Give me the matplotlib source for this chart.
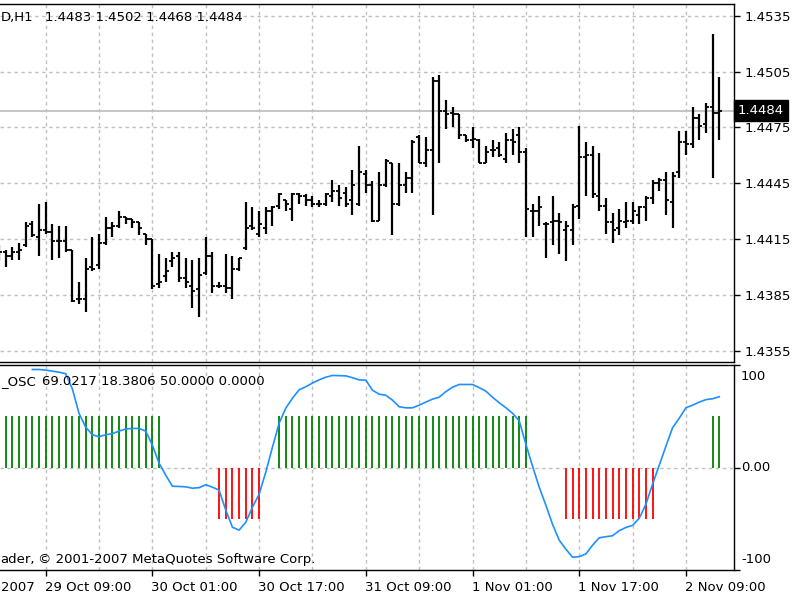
import numpy as np
import pandas as pd
import matplotlib
matplotlib.use('Agg')
import matplotlib.pyplot as plt

plt.rcParams['font.family'] = ['DejaVu Sans']
plt.rcParams['font.size'] = 9.5

# EURUSD H1, bars from 29 Oct 2007 02:00 to 2 Nov 2007 14:00
times = pd.date_range('2007-10-29 02:00', periods=109, freq='h')

opens = [1.4409, 1.4408, 1.4406, 1.4408, 1.4412, 1.4423, 1.4416, 1.4420, 1.4419, 1.4414,
         1.4414, 1.4409, 1.4383, 1.4383, 1.4400, 1.4401, 1.4413, 1.4421, 1.4422, 1.4427,
         1.4426, 1.4424, 1.4418, 1.4415, 1.4391, 1.4395, 1.4403, 1.4406, 1.4394, 1.4390,
         1.4388, 1.4397, 1.4406, 1.4390, 1.4390, 1.4389, 1.4399, 1.4410, 1.4422, 1.4418,
         1.4421, 1.4430, 1.4433, 1.4436, 1.4431, 1.4439, 1.4438, 1.4436, 1.4434, 1.4434,
         1.4438, 1.4441, 1.4440, 1.4436, 1.4434, 1.4450, 1.4444, 1.4425, 1.4444, 1.4456,
         1.4434, 1.4444, 1.4448, 1.4470, 1.4456, 1.4463, 1.4500, 1.4484, 1.4483, 1.4482,
         1.4471, 1.4468, 1.4468, 1.4456, 1.4463, 1.4464, 1.4458, 1.4468, 1.4471, 1.4462,
         1.4430, 1.4430, 1.4423, 1.4424, 1.4425, 1.4420, 1.4420, 1.4433, 1.4459, 1.4460,
         1.4438, 1.4433, 1.4424, 1.4421, 1.4424, 1.4425, 1.4428, 1.4432, 1.4437, 1.4445,
         1.4447, 1.4435, 1.4451, 1.4467, 1.4466, 1.4480, 1.4477, 1.4486, 1.4483]
highs = [1.4412, 1.4409, 1.4411, 1.4413, 1.4424, 1.4425, 1.4434, 1.4435, 1.4423, 1.4422,
         1.4422, 1.4409, 1.4392, 1.4405, 1.4416, 1.4418, 1.4427, 1.4424, 1.4430, 1.4427,
         1.4426, 1.4424, 1.4418, 1.4415, 1.4407, 1.4405, 1.4408, 1.4408, 1.4405, 1.4404,
         1.4405, 1.4416, 1.4408, 1.4392, 1.4407, 1.4406, 1.4405, 1.4435, 1.4432, 1.4430,
         1.4432, 1.4433, 1.4440, 1.4436, 1.4440, 1.4440, 1.4439, 1.4438, 1.4436, 1.4440,
         1.4447, 1.4444, 1.4443, 1.4452, 1.4465, 1.4452, 1.4446, 1.4451, 1.4458, 1.4456,
         1.4456, 1.4451, 1.4468, 1.4471, 1.4470, 1.4502, 1.4503, 1.4490, 1.4486, 1.4482,
         1.4471, 1.4475, 1.4469, 1.4465, 1.4468, 1.4467, 1.4472, 1.4474, 1.4475, 1.4464,
         1.4434, 1.4438, 1.4424, 1.4438, 1.4429, 1.4425, 1.4434, 1.4476, 1.4467, 1.4465,
         1.4461, 1.4437, 1.4429, 1.4431, 1.4435, 1.4435, 1.4433, 1.4438, 1.4447, 1.4448,
         1.4451, 1.4451, 1.4473, 1.4473, 1.4486, 1.4482, 1.4488, 1.4525, 1.4502]
lows = [1.4403, 1.4400, 1.4404, 1.4404, 1.4411, 1.4416, 1.4406, 1.4418, 1.4404, 1.4405,
        1.4408, 1.4381, 1.4380, 1.4376, 1.4398, 1.4399, 1.4412, 1.4416, 1.4421, 1.4423,
        1.4421, 1.4417, 1.4412, 1.4388, 1.4389, 1.4392, 1.4400, 1.4392, 1.4389, 1.4378,
        1.4373, 1.4396, 1.4386, 1.4389, 1.4386, 1.4383, 1.4398, 1.4409, 1.4420, 1.4416,
        1.4418, 1.4422, 1.4431, 1.4430, 1.4425, 1.4434, 1.4433, 1.4432, 1.4432, 1.4433,
        1.4435, 1.4433, 1.4432, 1.4428, 1.4433, 1.4440, 1.4424, 1.4425, 1.4443, 1.4417,
        1.4433, 1.4440, 1.4440, 1.4456, 1.4454, 1.4428, 1.4456, 1.4474, 1.4475, 1.4469,
        1.4467, 1.4464, 1.4456, 1.4456, 1.4459, 1.4459, 1.4456, 1.4460, 1.4456, 1.4416,
        1.4416, 1.4422, 1.4405, 1.4412, 1.4407, 1.4403, 1.4412, 1.4426, 1.4438, 1.4437,
        1.4430, 1.4418, 1.4413, 1.4417, 1.4421, 1.4423, 1.4423, 1.4425, 1.4434, 1.4441,
        1.4428, 1.4421, 1.4448, 1.4460, 1.4464, 1.4468, 1.4472, 1.4448, 1.4468]
closes = [1.4408, 1.4406, 1.4408, 1.4409, 1.4422, 1.4417, 1.4420, 1.4419, 1.4414, 1.4414,
          1.4409, 1.4382, 1.4383, 1.4399, 1.4399, 1.4413, 1.4421, 1.4422, 1.4427, 1.4426,
          1.4424, 1.4421, 1.4415, 1.4390, 1.4392, 1.4398, 1.4405, 1.4394, 1.4392, 1.4387,
          1.4396, 1.4406, 1.4390, 1.4390, 1.4389, 1.4399, 1.4405, 1.4421, 1.4421, 1.4423,
          1.4430, 1.4432, 1.4439, 1.4434, 1.4439, 1.4438, 1.4436, 1.4434, 1.4434, 1.4439,
          1.4441, 1.4437, 1.4434, 1.4444, 1.4451, 1.4444, 1.4425, 1.4444, 1.4457, 1.4434,
          1.4444, 1.4448, 1.4467, 1.4456, 1.4463, 1.4500, 1.4484, 1.4482, 1.4482, 1.4471,
          1.4468, 1.4469, 1.4456, 1.4462, 1.4463, 1.4460, 1.4468, 1.4467, 1.4462, 1.4431,
          1.4430, 1.4432, 1.4423, 1.4425, 1.4424, 1.4422, 1.4432, 1.4459, 1.4460, 1.4439,
          1.4433, 1.4424, 1.4420, 1.4425, 1.4425, 1.4430, 1.4432, 1.4437, 1.4445, 1.4447,
          1.4436, 1.4449, 1.4467, 1.4466, 1.4480, 1.4476, 1.4486, 1.4483, 1.4484]

# oscillator line, drawn from the 6th bar on
osc_start = 5
osc_line = [95.6, 95.6, 95.0, 94.0, 93.0, 91.5, 76.6, 52.6, 39.3, 32.0,
            30.0, 32.0, 33.0, 35.5, 37.6, 38.1, 38.1, 35.5, 21.7, 4.2,
            -7.5, -18.3, -18.5, -18.9, -20.2, -19.7, -16.8, -19.2, -22.1, -41.6,
            -58.3, -61.1, -53.4, -38.7, -26.1, -4.5, 19.8, 43.2, 57.9, 67.6,
            75.8, 78.8, 82.4, 85.5, 88.1, 89.8, 89.6, 89.4, 87.6, 85.5,
            85.2, 75.4, 71.5, 70.5, 65.7, 59.3, 58.2, 58.2, 60.8, 63.8,
            66.7, 68.6, 74.0, 78.3, 81.0, 81.0, 81.0, 77.9, 74.5, 68.6,
            63.2, 58.3, 52.9, 45.6, 22.7, 1.3, -19.2, -36.8, -55.4, -70.9,
            -79.7, -87.5, -87.0, -84.3, -75.8, -68.6, -67.5, -66.6, -61.6, -58.5,
            -56.5, -49.5, -35.8, -16.3, 2.2, 20.8, 38.8, 48.1, 58.3, 60.8,
            63.8, 66.2, 67.1, 69.0]
# histogram: +50 green, -50 red, 0 = nothing
osc_hist = ([50] * 25 + [0] * 8 + [-50] * 7 + [0] * 2 + [50] * 38 +
            [0] * 5 + [-50] * 14 + [0] * 8 + [50] * 2)

price_ticks = [1.4355, 1.4385, 1.4415, 1.4445, 1.4475, 1.4505, 1.4535]
last_price = 1.4484

idx = np.arange(len(opens))
grid_color = '#c0c0c0'
dash = (0, (2.5, 2.5))

fig = plt.figure(figsize=(8, 6), dpi=100)
ax1 = fig.add_axes([0, 1 - 362 / 600, 734 / 800, 358 / 600])
ax2 = fig.add_axes([0, 30 / 600, 734 / 800, 205 / 600])

for ax in (ax1, ax2):
    ax.set_xlim(0.145, 110.21)
    ax.spines['left'].set_visible(False)
    for s in ('top', 'right', 'bottom'):
        ax.spines[s].set_linewidth(1.0)
        ax.spines[s].set_color('black')
    ax.yaxis.tick_right()
    ax.tick_params(axis='y', length=4, width=1, pad=3.5, labelsize=9.5)

# vertical grid every 8 hours, labels every 16
grid_idx = [i for i in idx if times[i].hour in (1, 9, 17)]
label_idx = grid_idx[0::2]
for g in grid_idx:
    ax1.axvline(g, color=grid_color, lw=1, ls=dash, zorder=0)
    ax2.axvline(g, color=grid_color, lw=1, ls=dash, zorder=0)

# ---- price panel
ax1.set_ylim(1.43490, 1.45413)
ax1.set_yticks(price_ticks)
ax1.set_yticklabels(['%.4f' % p for p in price_ticks])
for p in price_ticks:
    ax1.axhline(p, color=grid_color, lw=1, ls=dash, zorder=0)
ax1.axhline(last_price, color='#c0c0c0', lw=1.3, zorder=1)
ax1.set_xticks([])

ax1.vlines(idx, lows, highs, color='black', lw=1.6, zorder=3)
ax1.hlines(opens, idx - 0.45, idx, color='black', lw=1.3, zorder=3)
ax1.hlines(closes, idx, idx + 0.45, color='black', lw=1.3, zorder=3)

ax1.text(1.0055, last_price, '%.4f' % last_price, transform=ax1.get_yaxis_transform(),
         color='white', va='center', ha='left', fontsize=9.5,
         bbox=dict(boxstyle='square,pad=0.3', facecolor='black', edgecolor='black'))

# header (window is cut at the left edge, as in the screenshot)
ax1.text(0.5 / 734, 0.961, 'D,H1', transform=ax1.transAxes, ha='left', va='center')
ax1.text(45 / 734, 0.961, '%.4f %.4f %.4f %.4f' % (opens[-1], highs[-1], lows[-1], closes[-1]),
         transform=ax1.transAxes, ha='left', va='center')

# ---- oscillator panel
ax2.set_ylim(-100, 100)
ax2.axhline(0, color=grid_color, lw=1, ls=dash, zorder=0)
ax2.set_yticks([-100, 0, 100])
ax2.set_yticklabels(['', '', ''])
ax2.text(741 / 734, 88.6, '100', transform=ax2.get_yaxis_transform(), va='center', ha='left')
ax2.text(741 / 734, 0, '0.00', transform=ax2.get_yaxis_transform(), va='center', ha='left')
ax2.text(741 / 734, -89.8, '-100', transform=ax2.get_yaxis_transform(), va='center', ha='left')

hist = np.array(osc_hist)
up = hist > 0
dn = hist < 0
ax2.vlines(idx[up], 0, hist[up], color='#008000', lw=1.3, zorder=2)
ax2.vlines(idx[dn], 0, hist[dn], color='#ff0000', lw=1.3, zorder=2)
ax2.plot(np.arange(osc_start, osc_start + len(osc_line)), osc_line, color='#1e90ff', lw=1.2, zorder=3)

ax2.text(36 / 734, 0.9185, '_OSC', transform=ax2.transAxes, ha='right', va='center')
ax2.text(41.5 / 734, 0.9185, '69.0217 18.3806 50.0000 0.0000', transform=ax2.transAxes,
         ha='left', va='center')
ax2.text(0.5 / 734, 0.052, 'ader,', transform=ax2.transAxes, ha='left', va='center')
ax2.text(38 / 734, 0.052, '\u00a9 2001-2007 MetaQuotes Software Corp.', transform=ax2.transAxes,
         ha='left', va='center')

# time axis
ax2.set_xticks(label_idx)
ax2.set_xticklabels([''] * len(label_idx))
ax2.tick_params(axis='x', length=4, width=1, direction='out')
for i in label_idx:
    t = times[i]
    ax2.text(i - 0.15, -0.083, '%d %s %s' % (t.day, t.strftime('%b'), t.strftime('%H:%M')),
             transform=ax2.get_xaxis_transform(), ha='left', va='center')
ax2.text(0.5 / 734, -0.083, '2007', transform=ax2.transAxes, ha='left', va='center')

fig.savefig('out.png', dpi=100)
